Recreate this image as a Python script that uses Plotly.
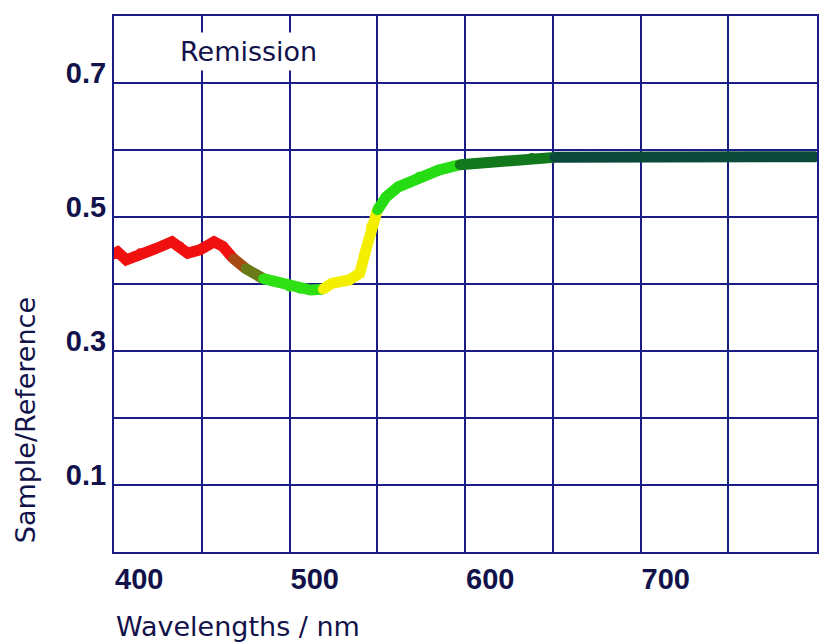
import plotly.graph_objects as go

# ---- data ----
wavelength = [398, 402, 407, 415, 424, 433, 437.5, 442, 449, 457, 462, 468, 475, 485, 492, 500, 506,
              512, 519, 524, 534, 540, 543.5, 546.5, 550, 555, 562, 574, 585, 597, 606, 619, 638,
              651, 700, 750, 800]
remission = [0.443, 0.448, 0.436, 0.446, 0.453, 0.463, 0.456, 0.446, 0.451, 0.463, 0.456, 0.438,
             0.423, 0.408, 0.403, 0.396, 0.393, 0.391, 0.392, 0.401, 0.406, 0.416, 0.451, 0.486,
             0.510, 0.530, 0.545, 0.560, 0.570, 0.578, 0.580, 0.583, 0.588, 0.589, 0.590, 0.590, 0.590]

# colour segments along the curve (start wavelength, end wavelength)
segment_bounds = [(398, 468), (468, 475), (475, 485), (485, 519), (519, 550), (550, 597), (597, 651), (651, 800)]
segment_colors = ["#f01010", "#a84a14", "#6a7a18", "#2ee014", "#f4ee00", "#26dc12", "#11781c", "#0b4a3a"]

x_tickvals = [400, 500, 600, 700]
y_tickvals = [0.1, 0.3, 0.5, 0.7]
y_ticktext = ["0.1", "0.3", "0.5", "0.7"]

NAVY = "#1c1c86"
TXT = "#12124a"

fig = go.Figure()
for (a, b), col in zip(segment_bounds, segment_colors):
    xs = [w for w in wavelength if a <= w <= b]
    ys = [r for w, r in zip(wavelength, remission) if a <= w <= b]
    fig.add_trace(go.Scatter(x=xs, y=ys, mode="lines+markers",
                             line=dict(color=col, width=11),
                             marker=dict(color=col, size=10),
                             cliponaxis=False, showlegend=False, hoverinfo="skip"))

fig.update_layout(
    width=819, height=643,
    margin=dict(l=114, r=0, t=16, b=91),
    paper_bgcolor="white", plot_bgcolor="white",
    showlegend=False,
)
fig.update_xaxes(
    range=[400, 800.5], tickvals=x_tickvals, ticktext=[str(v) for v in x_tickvals],
    ticklabelposition="outside right", ticks="",
    tickfont=dict(family="Liberation Sans", size=29, color=TXT, weight="bold"),
    showgrid=True, gridcolor=NAVY, gridwidth=2,
    minor=dict(dtick=50, tick0=400, showgrid=True, gridcolor=NAVY, gridwidth=2),
    showline=True, mirror=True, linecolor=NAVY, linewidth=2,
    zeroline=False,
)
fig.update_yaxes(
    range=[0, 0.8], tickvals=y_tickvals, ticktext=y_ticktext,
    ticklabelposition="outside top", ticks="", ticklabelshift=10,
    tickfont=dict(family="Liberation Sans", size=29, color=TXT, weight="bold"),
    showgrid=True, gridcolor=NAVY, gridwidth=2,
    minor=dict(dtick=0.1, tick0=0, showgrid=True, gridcolor=NAVY, gridwidth=2),
    showline=True, mirror=True, linecolor=NAVY, linewidth=2,
    zeroline=False,
)

PW, PH = 705, 536
def px_x(px):
    return (px - 114) / PW
def px_y(py):
    return (552 - py) / PH

fig.add_annotation(text="Remission", xref="paper", yref="paper",
                   x=px_x(176), y=px_y(52), xanchor="left", yanchor="middle",
                   showarrow=False, bgcolor="white", borderpad=3,
                   font=dict(family="DejaVu Sans", size=27, color=TXT))
fig.add_annotation(text="Wavelengths / nm", xref="paper", yref="paper",
                   x=px_x(114), y=px_y(626), xanchor="left", yanchor="middle",
                   showarrow=False,
                   font=dict(family="DejaVu Sans", size=27, color=TXT))
fig.add_annotation(text="Sample/Reference", xref="paper", yref="paper",
                   x=px_x(25), y=px_y(420), xanchor="center", yanchor="middle",
                   textangle=-90, showarrow=False,
                   font=dict(family="DejaVu Sans", size=27, color=TXT))

fig.write_html("out.html")
